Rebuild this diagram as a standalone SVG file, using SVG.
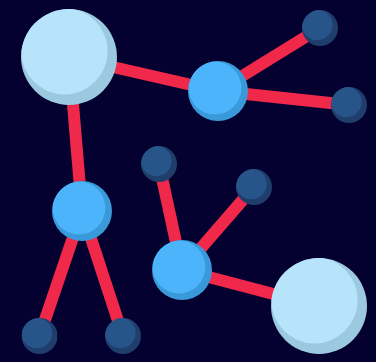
<svg xmlns="http://www.w3.org/2000/svg" xmlns:xlink="http://www.w3.org/1999/xlink" width="376" height="362" viewBox="0 0 376 362">
  <defs>
    <style>
      .edge { stroke: #f0284a; stroke-width: 12; fill: none; }
    </style>
    <clipPath id="unit"><circle cx="50" cy="50" r="50"/></clipPath>
    <symbol id="big" viewBox="0 0 100 100">
      <circle cx="50" cy="50" r="50" fill="#9bc9df"/>
      <circle cx="45.3" cy="44" r="45" fill="#b7e4fb" clip-path="url(#unit)"/>
    </symbol>
    <symbol id="mid" viewBox="0 0 100 100">
      <circle cx="50" cy="50" r="50" fill="#3a99d8"/>
      <circle cx="45" cy="45" r="44" fill="#4cb4fb" clip-path="url(#unit)"/>
    </symbol>
    <symbol id="small" viewBox="0 0 100 100">
      <circle cx="50" cy="50" r="50" fill="#1f3e6c"/>
      <circle cx="42.5" cy="41.7" r="42.5" fill="#27558a" clip-path="url(#unit)"/>
    </symbol>
  </defs>
  <rect width="376" height="362" fill="#04002f"/>
  <g id="connectors">
    <line class="edge" x1="69" y1="57" x2="218" y2="91"/>
    <line class="edge" x1="218" y1="91" x2="320" y2="28"/>
    <line class="edge" x1="218" y1="91" x2="349" y2="105"/>
    <line class="edge" x1="69" y1="57" x2="82" y2="211"/>
    <line class="edge" x1="82" y1="211" x2="39.5" y2="336"/>
    <line class="edge" x1="82" y1="211" x2="123" y2="336"/>
    <line class="edge" x1="159" y1="164" x2="182" y2="270"/>
    <line class="edge" x1="182" y1="270" x2="254" y2="187"/>
    <line class="edge" x1="182" y1="270" x2="319" y2="306"/>
  </g>
  <g id="nodeA"><use href="#big" x="21" y="9" width="96" height="96"/></g>
  <g id="nodeB"><use href="#mid" x="188" y="61" width="60" height="60"/></g>
  <g id="nodeC"><use href="#small" x="302" y="10" width="36" height="36"/></g>
  <g id="nodeD"><use href="#small" x="331" y="87" width="36" height="36"/></g>
  <g id="nodeE"><use href="#small" x="141" y="146" width="36" height="36"/></g>
  <g id="nodeF"><use href="#mid" x="52" y="181" width="60" height="60"/></g>
  <g id="nodeG"><use href="#small" x="236" y="169" width="36" height="36"/></g>
  <g id="nodeH"><use href="#mid" x="152" y="240" width="60" height="60"/></g>
  <g id="nodeI"><use href="#big" x="271" y="258" width="96" height="96"/></g>
  <g id="nodeJ"><use href="#small" x="21.5" y="318" width="36" height="36"/></g>
  <g id="nodeK"><use href="#small" x="105" y="318" width="36" height="36"/></g>
</svg>
